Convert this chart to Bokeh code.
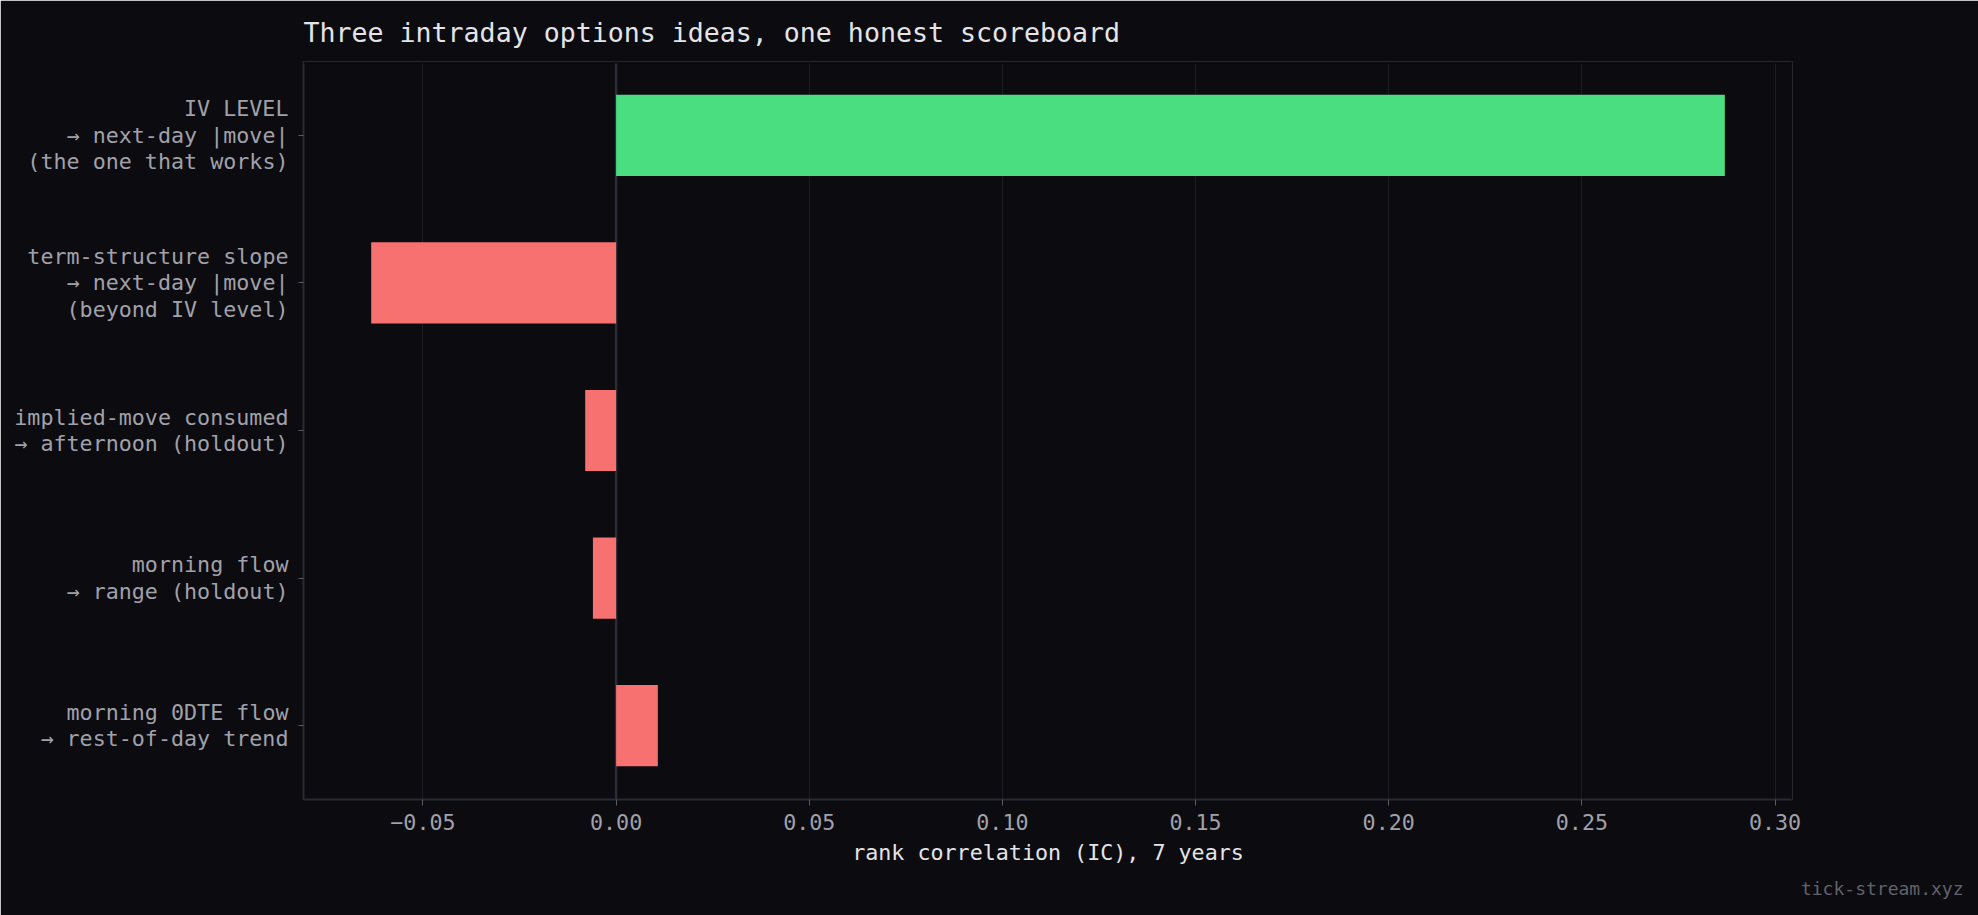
from bokeh.plotting import figure
from bokeh.models import Range1d, FixedTicker, Span, Title
from bokeh.embed import file_html
from bokeh.resources import INLINE

# ---- data ----
signals = [
    "IV LEVEL\n→ next-day |move|\n(the one that works)",
    "term-structure slope\n→ next-day |move|\n(beyond IV level)",
    "implied-move consumed\n→ afternoon (holdout)",
    "morning flow\n→ range (holdout)",
    "morning 0DTE flow\n→ rest-of-day trend",
]
ic_values = [0.287, -0.0634, -0.0080, -0.0060, 0.0108]
x_ticks = [-0.05, 0.00, 0.05, 0.10, 0.15, 0.20, 0.25, 0.30]
x_tick_labels = ["−0.05", "0.00", "0.05", "0.10", "0.15", "0.20", "0.25", "0.30"]
title_text = "Three intraday options ideas, one honest scoreboard"
watermark_text = "tick-stream.xyz"

# ---- style ----
BG = "#0b0b10"
GREEN = "#4ade80"
RED = "#f87171"
bar_colors = [GREEN, RED, RED, RED, RED]
FONT = "DejaVu Sans Mono"
LBL = "21.7px"

ys = list(range(len(signals)))
span = max(ic_values) - min(ic_values)
x0 = min(ic_values) - 0.05 * span
x1 = max(ic_values) + 0.05 * span
y_top, y_bot = -0.5, len(signals) - 0.5

p = figure(
    width=1978, height=915,
    x_range=Range1d(x0, x1), y_range=Range1d(y_bot, y_top),
    output_backend="svg", toolbar_location=None,
    background_fill_color=BG, border_fill_color=BG,
    min_border_left=303, min_border_right=186, min_border_top=60, min_border_bottom=116,
)
p.outline_line_color = None

p.hbar(y=ys, right=ic_values, left=0, height=0.55, fill_color=bar_colors, line_color=None)

zero = Span(location=0, dimension="height", line_color="#2c2c35", line_width=2.5, level="underlay")
p.add_layout(zero)

# hide the frame edge stroke at top and right
p.add_layout(Span(location=y_top, dimension="width", line_color=BG, line_width=4, level="overlay"))
p.add_layout(Span(location=x1, dimension="height", line_color=BG, line_width=4, level="overlay"))

# x axis
p.xaxis.ticker = FixedTicker(ticks=x_ticks)
p.xaxis.major_label_overrides = {t: l for t, l in zip(x_ticks, x_tick_labels)}
p.xaxis.axis_label = "rank correlation (IC), 7 years"
p.xaxis.axis_label_text_font = FONT
p.xaxis.axis_label_text_font_style = "normal"
p.xaxis.axis_label_text_font_size = LBL
p.xaxis.axis_label_text_color = "#e4e4e7"
p.xaxis.axis_label_standoff = 7
p.xaxis.major_label_text_font = FONT
p.xaxis.major_label_text_font_size = LBL
p.xaxis.major_label_text_color = "#a1a1aa"
p.xaxis.major_label_standoff = 8
p.xaxis.axis_line_color = "#2a2a33"
p.xaxis.axis_line_width = 2
p.xaxis.major_tick_line_color = "#5a5a62"
p.xaxis.major_tick_out = 6
p.xaxis.major_tick_in = 0
p.xaxis.minor_tick_line_color = None

# y axis
p.yaxis.ticker = FixedTicker(ticks=ys)
p.yaxis.major_label_overrides = {y: s for y, s in zip(ys, signals)}
p.yaxis.major_label_text_font = FONT
p.yaxis.major_label_text_font_size = LBL
p.yaxis.major_label_text_color = "#a1a1aa"
p.yaxis.major_label_text_line_height = 1.06
p.yaxis.major_label_standoff = 10
p.yaxis.axis_line_color = "#2a2a33"
p.yaxis.axis_line_width = 2
p.yaxis.major_tick_line_color = "#5a5a62"
p.yaxis.major_tick_out = 5
p.yaxis.major_tick_in = 0
p.yaxis.minor_tick_line_color = None

p.xgrid.grid_line_color = "#1c1c23"
p.xgrid.grid_line_width = 1
p.ygrid.grid_line_color = None

p.title.text = title_text
p.title.text_font = FONT
p.title.text_font_style = "normal"
p.title.text_font_size = "26.6px"
p.title.text_color = "#e4e4e7"
p.title.align = "left"
p.title.standoff = 28

wm = Title(text=watermark_text, align="right", offset=-171,
           text_font=FONT, text_font_size="18px", text_color="#62626a",
           text_font_style="normal", standoff=16)
p.add_layout(wm, "below")

html = file_html(p, INLINE)
open("out.html", "w").write(html)
